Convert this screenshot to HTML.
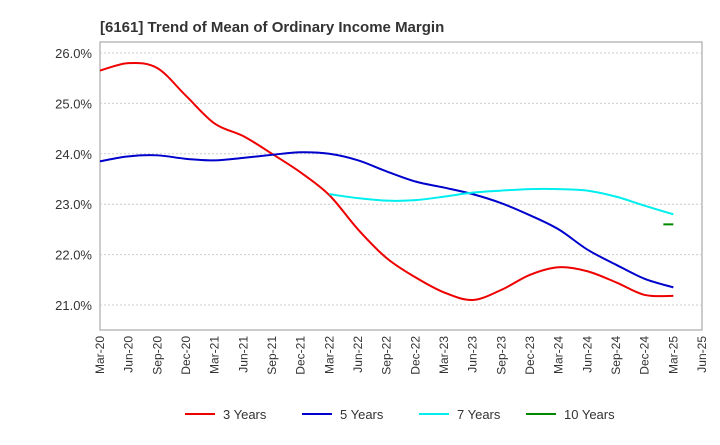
<!DOCTYPE html>
<html><head><meta charset="utf-8"><style>
body{margin:0;background:#fff;font-family:"Liberation Sans",Arial,sans-serif}
</style></head><body>
<svg id="chart" width="720" height="440" xmlns="http://www.w3.org/2000/svg">
<text x="100" y="32" font-size="15" font-weight="bold" fill="#333">[6161]  Trend of Mean of Ordinary Income Margin</text>
<rect x="100" y="42" width="602" height="288" fill="none" stroke="#999"/>
<g id="grid"></g><g id="xt"></g><g id="yt"></g><g id="series"></g><g id="legend"></g>
</svg>
<script>
const categories=["Mar-20","Jun-20","Sep-20","Dec-20","Mar-21","Jun-21","Sep-21","Dec-21","Mar-22","Jun-22","Sep-22","Dec-22","Mar-23","Jun-23","Sep-23","Dec-23","Mar-24","Jun-24","Sep-24","Dec-24","Mar-25","Jun-25"];
const yTicks=[21,22,23,24,25,26];
const s3=[25.65,25.8,25.7,25.15,24.6,24.35,24.0,23.63,23.18,22.5,21.93,21.55,21.25,21.1,21.3,21.6,21.75,21.67,21.45,21.2,21.18];
const s5=[23.85,23.95,23.97,23.9,23.87,23.92,23.98,24.03,24.0,23.87,23.65,23.45,23.33,23.2,23.02,22.78,22.5,22.1,21.8,21.52,21.35];
const s7=[null,null,null,null,null,null,null,null,23.2,23.12,23.07,23.08,23.15,23.23,23.27,23.3,23.3,23.27,23.15,22.97,22.8];
const s10=[null,null,null,null,null,null,null,null,null,null,null,null,null,null,null,null,null,null,null,null,22.6];
const NS="http://www.w3.org/2000/svg";
const x=i=>100+i*602/21, y=v=>305-(v-21)*50.4;
function mk(t,a,p){const e=document.createElementNS(NS,t);for(const k in a)e.setAttribute(k,a[k]);p.appendChild(e);return e;}
const grid=document.getElementById('grid'),yt=document.getElementById('yt'),xt=document.getElementById('xt');
yTicks.forEach(v=>{const l=mk('line',{x1:100,x2:702,y1:y(v),y2:y(v),stroke:'#ccc','stroke-dasharray':'2,2'},grid);


const t=mk('text',{x:92,y:y(v)+5,'text-anchor':'end','font-size':13,fill:'#333'},yt);t.textContent=v.toFixed(1)+'%';

});
categories.forEach((c,i)=>{const t=mk('text',{transform:`translate(${x(i)+4},336) rotate(-90)`,'text-anchor':'end','font-size':12,fill:'#333'},xt);t.textContent=c;

});
function path(d){const p=[];d.forEach((v,i)=>{if(v!=null)p.push([x(i),y(v)])});
if(p.length==1)return `M${p[0][0]-10},${p[0][1]}L${p[0][0]},${p[0][1]}`;
let s=`M${p[0][0]},${p[0][1]}`;for(let i=0;i<p.length-1;i++){const p0=p[i-1]||p[i],p1=p[i],p2=p[i+1],p3=p[i+2]||p2;
s+=`C${p1[0]+(p2[0]-p0[0])/6},${p1[1]+(p2[1]-p0[1])/6} ${p2[0]-(p3[0]-p1[0])/6},${p2[1]-(p3[1]-p1[1])/6} ${p2[0]},${p2[1]}`;}return s;}
const ser=[["3 Years",s3,"#e00"],["5 Years",s5,"#00c"],["7 Years",s7,"#0ee"],["10 Years",s10,"#080"]];
const sg=document.getElementById('series'),lg=document.getElementById('legend');
const lx=[185,302,419,526];
ser.forEach((s,k)=>{const p=mk('path',{d:path(s[1]),fill:'none',stroke:s[2],'stroke-width':2},sg);


const l=mk('line',{x1:lx[k],x2:lx[k]+30,y1:414,y2:414,stroke:s[2],'stroke-width':2},lg);


const t=mk('text',{x:lx[k]+38,y:419,'font-size':13,fill:'#333'},lg);t.textContent=s[0];

});
</script>
</body></html>
